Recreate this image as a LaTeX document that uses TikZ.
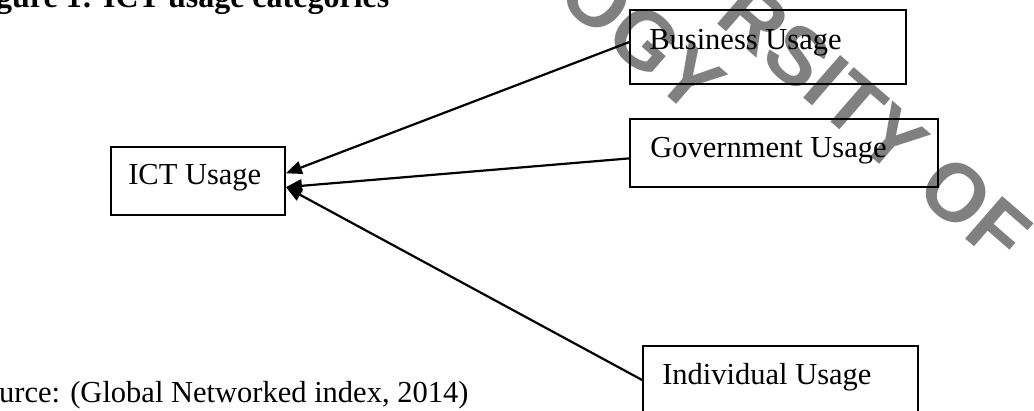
\documentclass[tikz,border=0pt]{standalone}
\usepackage{fontspec}
\setmainfont{Liberation Serif}
\newfontfamily\wmfont{Liberation Sans}
\usetikzlibrary{arrows.meta,calc}
\definecolor{wmgray}{RGB}{128,128,128}

\begin{document}
\begin{tikzpicture}[x=1pt,y=-1pt,
  box/.style={draw, line width=1.8pt, inner sep=0pt},
  lbl/.style={inner sep=0pt, anchor=base west, font=\fontsize{30.5}{36}\selectfont},
  conn/.style={line width=2.2pt, -{Triangle[length=16pt,width=13pt]}},
  wm/.style={inner sep=0pt, text=wmgray, font=\wmfont\bfseries\fontsize{82}{82}\selectfont}]
\useasboundingbox (0,0) rectangle (1034,411);
\clip (0,0) rectangle (1034,411);

% watermark behind everything
\node[wm, rotate=-41] (wmtop) at (875,123) {RSITY OF};
\node[wm, rotate=-41] (wmbot) at (642,37) {OGY};

% heading and source line
\node[lbl, font=\bfseries\fontsize{32}{38}\selectfont] (title) at (-4,8) {gure 1: ICT usage categories};
\node[lbl] (source) at (-1,403) {urce: (Global Networked index, 2014)};

% boxes
\node[box, minimum width=174pt, minimum height=68pt] (ict) at (198,181) {};
\node[box, minimum width=276pt, minimum height=74pt] (bus) at (768,47) {};
\node[box, minimum width=308pt, minimum height=68pt] (gov) at (784,153) {};
\node[box, minimum width=275pt, minimum height=68pt] (ind) at (780.5,380) {};

\node[lbl] (ictt) at ($(ict.north west)+(18,38)$) {ICT Usage};
\node[lbl] (bust) at ($(bus.north west)+(20,40)$) {Business Usage};
\node[lbl] (govt) at ($(gov.north west)+(21,39)$) {Government Usage};
\node[lbl] (indt) at ($(ind.north west)+(20,39)$) {Individual Usage};

% connectors
\draw[conn] (bus.178) -- (ict.5);
\draw[conn] (gov.182) -- (ict.-4);
\draw[conn] (ind.west) -- (ict.-4);
\end{tikzpicture}
\end{document}
